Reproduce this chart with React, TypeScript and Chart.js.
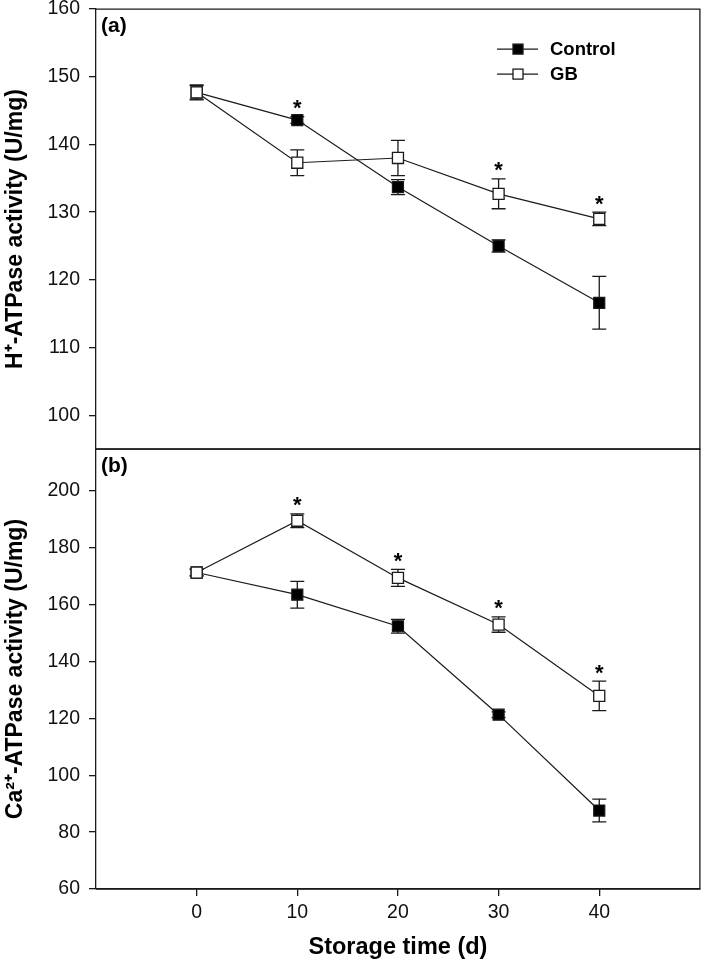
import React, { useEffect, useRef } from "react";
import { Chart, registerables } from "chart.js";

Chart.register(...registerables);

// ---------- data ----------
const days = [0, 10, 20, 30, 40];
const xTicks = [0, 10, 20, 30, 40];

const hControl = [147.7, 143.6, 133.7, 125.0, 116.6];
const hControlErr = [1.0, 0.5, 1.1, 0.9, 3.9];
const hGB = [147.7, 137.3, 138.0, 132.7, 129.0];
const hGBErr = [1.1, 1.9, 2.6, 2.2, 1.0];
const hSig = ["", "*", "", "*", "*"];
const hTicks = [100, 110, 120, 130, 140, 150, 160];

const caControl = [171.3, 163.5, 152.4, 121.3, 87.6];
const caControlErr = [1.2, 4.7, 2.4, 1.0, 4.0];
const caGB = [171.3, 189.5, 169.4, 153.0, 127.9];
const caGBErr = [1.2, 2.4, 3.0, 2.7, 5.2];
const caSig = ["", "*", "*", "*", "*"];
const caTicks = [60, 80, 100, 120, 140, 160, 180, 200];

const seriesNames = ["Control", "GB"];

// ---------- styling ----------
const INK = "#1a1a1a";
const FONT = "'Liberation Sans', Arial, sans-serif";

const errorBarPlugin = {
  id: "errorBars",
  beforeDatasetsDraw(chart: any) {
    const ctx = chart.ctx;
    const ys = chart.scales.y;
    const xs = chart.scales.x;
    ctx.save();
    ctx.strokeStyle = INK;
    ctx.lineWidth = 1.3;
    chart.data.datasets.forEach((ds: any) => {
      (ds.data as any[]).forEach((p: any, i: number) => {
        const e = ds.errors[i];
        const px = xs.getPixelForValue(p.x);
        const top = ys.getPixelForValue(p.y + e);
        const bot = ys.getPixelForValue(p.y - e);
        ctx.beginPath();
        ctx.moveTo(px, top);
        ctx.lineTo(px, bot);
        ctx.moveTo(px - 7, top);
        ctx.lineTo(px + 7, top);
        ctx.moveTo(px - 7, bot);
        ctx.lineTo(px + 7, bot);
        ctx.stroke();
      });
    });
    ctx.restore();
  },
};

const decorPlugin = {
  id: "decor",
  afterDraw(chart: any, _args: any, opts: any) {
    const ctx = chart.ctx;
    const { left, right, top, bottom } = chart.chartArea;
    const ys = chart.scales.y;
    const xs = chart.scales.x;
    ctx.save();
    // frame
    ctx.strokeStyle = INK;
    ctx.lineWidth = 1.3;
    ctx.beginPath();
    ctx.moveTo(left, top);
    ctx.lineTo(right, top);
    ctx.lineTo(right, bottom);
    ctx.lineTo(left, bottom);
    ctx.stroke();
    // panel label
    ctx.fillStyle = "#000";
    ctx.font = `bold 21px ${FONT}`;
    ctx.textAlign = "left";
    ctx.textBaseline = "middle";
    ctx.fillText(opts.panel, left + 5, top + 17);
    // significance stars
    ctx.font = `bold 22px ${FONT}`;
    ctx.textAlign = "center";
    ctx.textBaseline = "alphabetic";
    (opts.sig as string[]).forEach((s, i) => {
      if (!s) return;
      let maxV = -Infinity;
      chart.data.datasets.forEach((ds: any) => {
        const v = ds.data[i].y + ds.errors[i];
        if (v > maxV) maxV = v;
      });
      const py = ys.getPixelForValue(maxV) - 14;
      const px = xs.getPixelForValue(chart.data.datasets[0].data[i].x);
      ctx.fillText(s, px, py + 12.5);
    });
    // legend
    if (opts.legend) {
      const lx = left + 401;
      chart.data.datasets.forEach((ds: any, k: number) => {
        const ly = top + 40 + k * 25;
        ctx.strokeStyle = INK;
        ctx.lineWidth = 1.3;
        ctx.beginPath();
        ctx.moveTo(lx, ly);
        ctx.lineTo(lx + 41, ly);
        ctx.stroke();
        ctx.fillStyle = ds.backgroundColor;
        ctx.fillRect(lx + 16, ly - 5, 10, 10);
        ctx.strokeRect(lx + 16, ly - 5, 10, 10);
        ctx.fillStyle = "#000";
        ctx.font = `bold 18.5px ${FONT}`;
        ctx.textAlign = "left";
        ctx.textBaseline = "middle";
        ctx.fillText(ds.label, lx + 53, ly + 1);
      });
    }
    ctx.restore();
  },
};

function makeDatasets(ctrl: number[], ctrlErr: number[], gb: number[], gbErr: number[]) {
  return [
    {
      label: seriesNames[0],
      data: days.map((d, i) => ({ x: d, y: ctrl[i] })),
      errors: ctrlErr,
      borderColor: INK,
      borderWidth: 1.2,
      backgroundColor: "#000",
      pointStyle: "rect",
      pointRadius: 7.8,
      pointBorderWidth: 1.2,
      pointBorderColor: INK,
      pointBackgroundColor: "#000",
      order: 2,
    },
    {
      label: seriesNames[1],
      data: days.map((d, i) => ({ x: d, y: gb[i] })),
      errors: gbErr,
      borderColor: INK,
      borderWidth: 1.2,
      backgroundColor: "#fff",
      pointStyle: "rect",
      pointRadius: 7.8,
      pointBorderWidth: 1.3,
      pointBorderColor: INK,
      pointBackgroundColor: "#fff",
      order: 1,
    },
  ];
}

interface PanelProps {
  top: number;
  height: number;
  padTop: number;
  padBottom: number;
  showX: boolean;
  yMin: number;
  yMax: number;
  yTicks: number[];
  yTitle: string;
  panel: string;
  sig: string[];
  legend: boolean;
  datasets: any[];
  rightPad: number;
}

function Panel(p: PanelProps) {
  const ref = useRef<HTMLCanvasElement | null>(null);
  useEffect(() => {
    if (!ref.current) return;
    const chart = new Chart(ref.current, {
      type: "line",
      data: { datasets: p.datasets },
      plugins: [errorBarPlugin, decorPlugin],
      options: {
        responsive: false,
        animation: false,
        events: [],
        layout: { padding: { top: p.padTop, bottom: p.padBottom, left: 0, right: p.rightPad } },
        plugins: {
          legend: { display: false },
          tooltip: { enabled: false },
          decor: { panel: p.panel, sig: p.sig, legend: p.legend },
        } as any,
        scales: {
          x: {
            type: "linear",
            display: p.showX,
            min: -10,
            max: 50,
            afterBuildTicks: (s: any) => {
              s.ticks = xTicks.map((v) => ({ value: v }));
            },
            afterFit: (s: any) => {
              s.height = p.showX ? 73 : 0;
              s.paddingLeft = 0;
              s.paddingRight = 0;
            },
            grid: { drawOnChartArea: false, drawTicks: true, tickLength: 7, color: INK, lineWidth: 1.3 },
            border: { display: true, color: INK, width: 1.3 },
            ticks: { color: "#111", padding: 5, font: { family: FONT, size: 19.5 }, maxRotation: 0 },
            title: {
              display: true,
              text: "Storage time (d)",
              color: "#000",
              font: { family: FONT, size: 23.5, weight: "bold" },
              padding: { top: 0, bottom: 0 },
            },
          },
          y: {
            type: "linear",
            min: p.yMin,
            max: p.yMax,
            afterBuildTicks: (s: any) => {
              s.ticks = p.yTicks.map((v) => ({ value: v }));
            },
            afterFit: (s: any) => {
              s.width = 96;
              s.paddingTop = 0;
              s.paddingBottom = 0;
            },
            grid: { drawOnChartArea: false, drawTicks: true, tickLength: 7, color: INK, lineWidth: 1.3 },
            border: { display: true, color: INK, width: 1.3 },
            ticks: { color: "#111", padding: 9, font: { family: FONT, size: 19.5 } },
            title: {
              display: true,
              text: p.yTitle,
              color: "#000",
              font: { family: FONT, size: 23, weight: "bold" },
              padding: { top: 2, bottom: 0 },
            },
          },
        },
      } as any,
    });
    return () => chart.destroy();
  }, []);
  return (
    <canvas
      ref={ref}
      width={709}
      height={p.height}
      style={{ position: "absolute", left: 0, top: p.top, width: 709, height: p.height }}
    />
  );
}

export default function App() {
  return (
    <div style={{ position: "absolute", left: 0, top: 0, width: 709, height: 962, background: "#fff" }}>
      <Panel
        top={440}
        height={522}
        padTop={9}
        padBottom={0}
        showX={true}
        yMin={60}
        yMax={214.7}
        yTicks={caTicks}
        yTitle={"Ca\u00B2\u207A-ATPase activity (U/mg)"}
        panel="(b)"
        sig={caSig}
        legend={false}
        datasets={makeDatasets(caControl, caControlErr, caGB, caGBErr)}
        rightPad={2}
      />
      <Panel
        top={0}
        height={460}
        padTop={8}
        padBottom={11}
        showX={false}
        yMin={95}
        yMax={160}
        yTicks={hTicks}
        yTitle={"H\u207A-ATPase activity (U/mg)"}
        panel="(a)"
        sig={hSig}
        legend={true}
        datasets={makeDatasets(hControl, hControlErr, hGB, hGBErr)}
        rightPad={1}
      />
    </div>
  );
}
